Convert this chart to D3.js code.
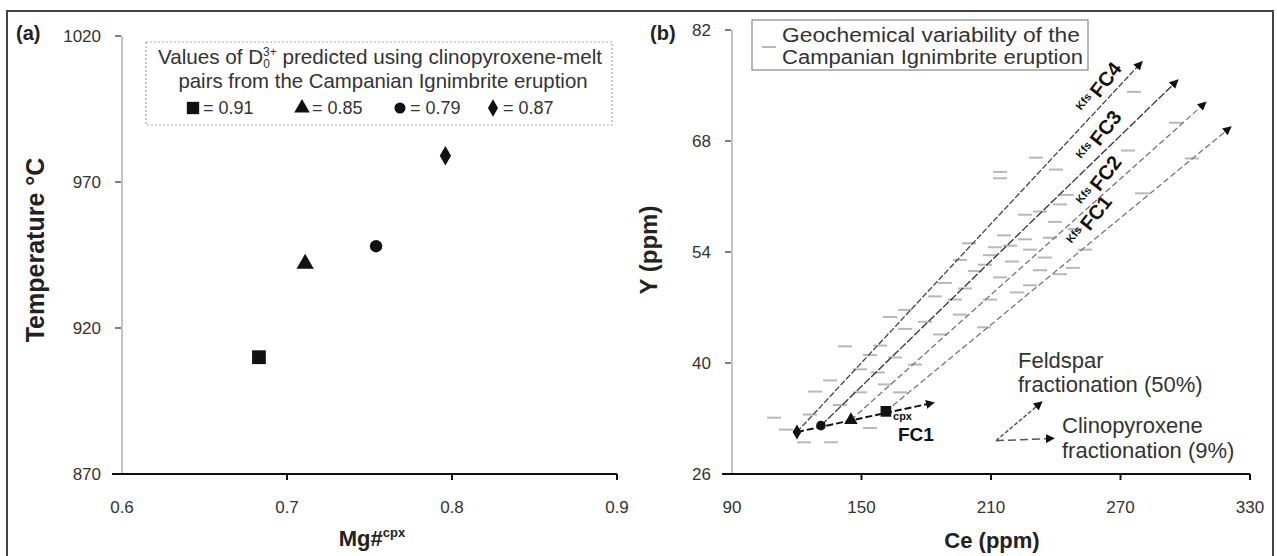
<!DOCTYPE html>
<html><head><meta charset="utf-8">
<script src="https://cdn.jsdelivr.net/npm/d3@7"></script>
<style>
body{margin:0;background:#fff;}
svg{display:block;font-family:"Liberation Sans",Arial,Helvetica,sans-serif;}
</style></head><body>
<svg id="chart" width="1277" height="556"></svg>
<script>
// ---- Panel (a): clinopyroxene Mg# vs. temperature ----
const mgNumber = [0.683, 0.711, 0.754, 0.796];
const temperatureC = [910, 942, 948, 979];
const d0Labels = ["0.91", "0.85", "0.79", "0.87"];
const symbolKinds = ["square", "triangle", "circle", "diamond"];
const mgTicks = [0.6, 0.7, 0.8, 0.9];
const tempTicks = [870, 920, 970, 1020];

// ---- Panel (b): Ce vs. Y ----
const ceTicks = [90, 150, 210, 270, 330];
const yTicks = [26, 40, 54, 68, 82];
// starting melts (square, triangle, circle, diamond)
const startCe = [161.3, 145.1, 131.2, 120.1];
const startY = [33.9, 32.8, 32.1, 31.3];
// feldspar fractionation models FC1..FC4 (start from the square..diamond)
const fcNames = ["FC1", "FC2", "FC3", "FC4"];
const fcEndCe = [321.2, 309.6, 296.6, 280.0];
const fcEndY = [69.8, 72.9, 75.7, 78.0];
const fcLabelCe = [266.5, 271.0, 271.0, 271.0];
const fcLabelY = [60.3, 65.3, 71.0, 77.1];
// clinopyroxene fractionation path
const cpxEndCe = 183.6, cpxEndY = 35.0;
// Campanian Ignimbrite whole-rock / glass compositions
const sampleCe = [276.2,295.7,273.5,230.8,303.1,214.2,214.2,240.1,280.0,245.2,232.7,239.6,216.0,199.8,218.8,228.1,209.5,235.0,219.7,248.0,207.2,188.7,222.0,197.9,184.0,170.2,163.2,206.8,142.4,158.6,165.5,157.6,128.5,149.3,167.8,109.5,115.0,123.4,135.9,
  242.0,225.7,248.9,237.3,211.8,232.7,242.0,214.2,202.6,193.3,209.5,228.1,195.6,179.4,186.4,170.2,195.6,225.7,253.5,153.9,149.3,174.8,135.4,160.9,140.0,126.1,153.9];
const sampleY = [74.2,70.3,66.8,65.9,65.8,64.1,63.3,64.4,61.4,61.2,59.1,57.8,56.1,55.1,54.8,54.3,53.6,53.3,52.8,52.0,52.4,50.1,48.9,49.4,48.4,46.7,45.8,44.5,42.1,42.2,40.7,38.8,36.4,36.3,36.3,33.1,31.6,30.0,30.0,
  60.0,58.7,56.9,55.8,54.6,51.7,51.2,50.8,51.6,48.0,48.0,49.8,46.1,45.2,43.6,44.3,53.0,55.6,54.3,41.0,39.2,39.8,37.8,37.3,34.7,33.5,31.8];
// fractionation vectors (legend arrows)
const vecOriginCe = 212.3, vecOriginY = 30.2;
const fspVecCe = 233.6, fspVecY = 35.1;
const cpxVecCe = 239.2, cpxVecY = 30.5;

const svg = d3.select("#chart");
const ink = "#222";

// outer frame
svg.append("rect").attr("x", 7).attr("y", 11).attr("width", 1266).attr("height", 560)
  .attr("fill", "none").attr("stroke", "#444").attr("stroke-width", 2);

// arrowhead marker
const defs = svg.append("defs");
defs.append("marker").attr("id", "head").attr("viewBox", "0 0 10 10")
  .attr("refX", 9).attr("refY", 5).attr("markerWidth", 9).attr("markerHeight", 9)
  .attr("markerUnits", "userSpaceOnUse").attr("orient", "auto")
  .append("path").attr("d", "M0,0 L10,5 L0,10 z").attr("fill", "#111");

const symbolMap = {square: d3.symbolSquare, triangle: d3.symbolTriangle, circle: d3.symbolCircle, diamond: d3.symbolDiamond};
const symbolSize = {square: 190, triangle: 130, circle: 120, diamond: 110};

function drawAxes(x, y, xTicks, yTickVals, xFmt, yFmt) {
  const [x0, x1] = x.range();
  const [yb, yt] = y.range();
  // light vertical axis
  svg.append("line").attr("x1", x0).attr("x2", x0).attr("y1", yt).attr("y2", yb)
    .attr("stroke", "#c4c4c4").attr("stroke-width", 2);
  const gy = svg.append("g");
  yTickVals.forEach(v => {
    gy.append("line").attr("x1", x0 - 7).attr("x2", x0 - 1).attr("y1", y(v)).attr("y2", y(v))
      .attr("stroke", "#555").attr("stroke-width", 1.5);
    gy.append("text").attr("x", x0 - 21).attr("y", y(v)).attr("dy", "0.35em")
      .attr("text-anchor", "end").attr("font-size", 17).attr("fill", "#333").text(yFmt(v));
  });
  // dark horizontal axis
  svg.append("line").attr("x1", x0 - 10).attr("x2", x1).attr("y1", yb).attr("y2", yb)
    .attr("stroke", "#111").attr("stroke-width", 2);
  const gx = svg.append("g");
  xTicks.forEach((v, i) => {
    if (i > 0) gx.append("line").attr("x1", x(v)).attr("x2", x(v)).attr("y1", yb).attr("y2", yb + 6)
      .attr("stroke", "#111").attr("stroke-width", 2);
    gx.append("text").attr("x", x(v)).attr("y", yb + 39).attr("text-anchor", "middle")
      .attr("font-size", 17).attr("fill", "#333").text(xFmt(v));
  });
}

// ================= Panel (a) =================
const xa = d3.scaleLinear().domain([0.6, 0.9]).range([122, 617]);
const ya = d3.scaleLinear().domain([870, 1020]).range([474, 36]);
drawAxes(xa, ya, mgTicks, tempTicks, d3.format(".1f"), d3.format("d"));

svg.append("text").attr("x", 16).attr("y", 40).attr("font-size", 20).attr("font-weight", "bold")
  .attr("fill", ink).text("(a)");

svg.append("g").selectAll("path").data(mgNumber).join("path")
  .attr("transform", (d, i) => `translate(${xa(d)},${ya(temperatureC[i])})`)
  .attr("d", (d, i) => d3.symbol(symbolMap[symbolKinds[i]], symbolSize[symbolKinds[i]])())
  .attr("fill", "#111");

// axis titles
svg.append("text").attr("transform", "translate(44,250) rotate(-90)").attr("text-anchor", "middle")
  .attr("font-size", 25).attr("font-weight", "bold").attr("fill", ink).text("Temperature °C");
const mgT = svg.append("text").attr("x", 372).attr("y", 546).attr("text-anchor", "middle")
  .attr("font-size", 22).attr("font-weight", "bold").attr("fill", ink);
mgT.append("tspan").text("Mg#");
mgT.append("tspan").attr("font-size", 13).attr("dy", -9).text("cpx");

// legend (a)
svg.append("rect").attr("x", 146).attr("y", 42).attr("width", 466).attr("height", 83)
  .attr("fill", "none").attr("stroke", "#aaa").attr("stroke-width", 1.2).attr("stroke-dasharray", "2,2");
const l1 = svg.append("text").attr("x", 380).attr("y", 64).attr("text-anchor", "middle")
  .attr("font-size", 20.7).attr("fill", "#333");
l1.append("tspan").text("Values of D");
l1.append("tspan").attr("font-size", 12).attr("dy", 4).text("0");
l1.append("tspan").attr("font-size", 12).attr("dy", -12).attr("dx", -7).text("3+");
l1.append("tspan").attr("dy", 8).text(" predicted using clinopyroxene-melt");
svg.append("text").attr("x", 383).attr("y", 88).attr("text-anchor", "middle")
  .attr("font-size", 20.4).attr("fill", "#333").text("pairs from the Campanian Ignimbrite eruption");
const legX = [193, 302, 400, 493];
symbolKinds.forEach((k, i) => {
  svg.append("path").attr("transform", `translate(${legX[i]},108)`)
    .attr("d", d3.symbol(symbolMap[k], symbolSize[k] * 0.8)()).attr("fill", "#111");
  svg.append("text").attr("x", legX[i] + 10).attr("y", 114).attr("font-size", 18)
    .attr("fill", "#333").text("= " + d0Labels[i]);
});

// ================= Panel (b) =================
const xb = d3.scaleLinear().domain([90, 330]).range([732, 1250]);
const yb = d3.scaleLinear().domain([26, 82]).range([474, 30]);
drawAxes(xb, yb, ceTicks, yTicks, d3.format("d"), d3.format("d"));

svg.append("text").attr("x", 650).attr("y", 40).attr("font-size", 20).attr("font-weight", "bold")
  .attr("fill", ink).text("(b)");

// sample dashes
svg.append("g").selectAll("line").data(sampleCe).join("line")
  .attr("x1", (d) => xb(d) - 7).attr("x2", (d) => xb(d) + 7)
  .attr("y1", (d, i) => yb(sampleY[i])).attr("y2", (d, i) => yb(sampleY[i]))
  .attr("stroke", "#b8b8b8").attr("stroke-width", 2);

// fractionation model lines
const fcStyles = [
  {stroke: "#777", dash: "6,3"},
  {stroke: "#777", dash: "6,3"},
  {stroke: "#333", dash: "8,2"},
  {stroke: "#444", dash: "6,2"}
];
fcNames.forEach((n, i) => {
  svg.append("line").attr("x1", xb(startCe[i])).attr("y1", yb(startY[i]))
    .attr("x2", xb(fcEndCe[i])).attr("y2", yb(fcEndY[i]))
    .attr("stroke", fcStyles[i].stroke).attr("stroke-width", 1.3)
    .attr("stroke-dasharray", fcStyles[i].dash).attr("marker-end", "url(#head)");
  const t = svg.append("text")
    .attr("transform", `translate(${xb(fcLabelCe[i])},${yb(fcLabelY[i])}) rotate(-52)`)
    .attr("text-anchor", "end").attr("fill", "#111");
  t.append("tspan").attr("font-size", 11).attr("font-weight", "bold").attr("dy", -7).text("Kfs");
  t.append("tspan").attr("font-size", 20).attr("font-weight", "bold").attr("dy", 7).attr("dx", 3).text(n);
});

// clinopyroxene fractionation path
svg.append("line").attr("x1", xb(startCe[3])).attr("y1", yb(startY[3]))
  .attr("x2", xb(cpxEndCe)).attr("y2", yb(cpxEndY))
  .attr("stroke", "#111").attr("stroke-width", 2).attr("stroke-dasharray", "7,3")
  .attr("marker-end", "url(#head)");
svg.append("g").selectAll("path").data(startCe).join("path")
  .attr("transform", (d, i) => `translate(${xb(d)},${yb(startY[i])})`)
  .attr("d", (d, i) => d3.symbol(symbolMap[symbolKinds[i]], symbolSize[symbolKinds[i]] * 0.6)())
  .attr("fill", "#111");
// label for the clinopyroxene path, tucked under its arrow
const cpxLabelX = xb(cpxEndCe) - 40, cpxLabelY = yb(cpxEndY);
svg.append("text").attr("x", cpxLabelX - 1).attr("y", cpxLabelY + 17)
  .attr("font-size", 11).attr("font-weight", "bold").attr("fill", "#111").text("cpx");
svg.append("text").attr("x", cpxLabelX + 4).attr("y", cpxLabelY + 38)
  .attr("font-size", 19).attr("font-weight", "bold").attr("fill", "#111").text("FC1");

// legend (b)
svg.append("rect").attr("x", 752).attr("y", 20).attr("width", 336).attr("height", 50)
  .attr("fill", "#fff").attr("stroke", "#888").attr("stroke-width", 1.2);
svg.append("line").attr("x1", 762).attr("x2", 776).attr("y1", 47).attr("y2", 47)
  .attr("stroke", "#b8b8b8").attr("stroke-width", 2);
svg.append("text").attr("x", 782).attr("y", 42).attr("font-size", 19.5).attr("fill", "#333")
  .attr("textLength", 298).attr("lengthAdjust", "spacingAndGlyphs")
  .text("Geochemical variability of the");
svg.append("text").attr("x", 782).attr("y", 64).attr("font-size", 19.5).attr("fill", "#333")
  .attr("textLength", 301).attr("lengthAdjust", "spacingAndGlyphs")
  .text("Campanian Ignimbrite eruption");

// fractionation vectors
svg.append("line").attr("x1", xb(vecOriginCe)).attr("y1", yb(vecOriginY))
  .attr("x2", xb(fspVecCe)).attr("y2", yb(fspVecY))
  .attr("stroke", "#555").attr("stroke-width", 1.5).attr("stroke-dasharray", "4,2").attr("marker-end", "url(#head)");
svg.append("line").attr("x1", xb(vecOriginCe)).attr("y1", yb(vecOriginY))
  .attr("x2", xb(cpxVecCe)).attr("y2", yb(cpxVecY))
  .attr("stroke", "#555").attr("stroke-width", 1.5).attr("stroke-dasharray", "8,4").attr("marker-end", "url(#head)");
[["Feldspar", 1018, 368], ["fractionation (50%)", 1018, 392],
 ["Clinopyroxene", 1062, 433], ["fractionation (9%)", 1062, 458]].forEach(([s, x, y]) => {
  svg.append("text").attr("x", x).attr("y", y).attr("font-size", 22).attr("fill", "#333").text(s);
});

svg.append("text").attr("transform", "translate(657,250) rotate(-90)").attr("text-anchor", "middle")
  .attr("font-size", 24).attr("font-weight", "bold").attr("fill", ink).text("Y (ppm)");
svg.append("text").attr("x", 992).attr("y", 548).attr("text-anchor", "middle")
  .attr("font-size", 22).attr("font-weight", "bold").attr("fill", ink).text("Ce (ppm)");
</script>
</body></html>
